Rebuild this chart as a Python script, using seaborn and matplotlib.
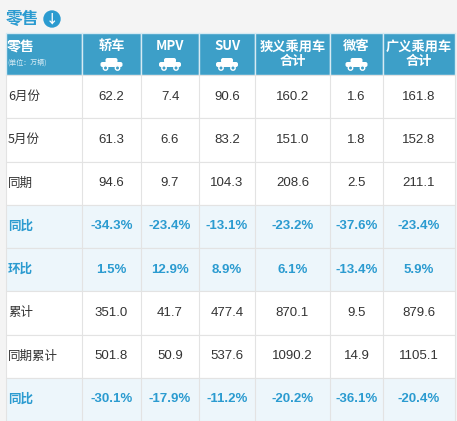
import matplotlib.pyplot as plt
import seaborn as sns
from matplotlib.patches import Rectangle, Circle, FancyBboxPatch

sns.set_theme(style='white')
plt.rcParams['font.family'] = ['Noto Sans CJK SC', 'DejaVu Sans']

columns = ['轿车', 'MPV', 'SUV', '狭义乘用车\n合计', '微客', '广义乘用车\n合计']
row_labels = ['6月份', '5月份', '同期', '同比', '环比', '累计', '同期累计', '同比']
values = [
    ['62.2', '7.4', '90.6', '160.2', '1.6', '161.8'],
    ['61.3', '6.6', '83.2', '151.0', '1.8', '152.8'],
    ['94.6', '9.7', '104.3', '208.6', '2.5', '211.1'],
    ['-34.3%', '-23.4%', '-13.1%', '-23.2%', '-37.6%', '-23.4%'],
    ['1.5%', '12.9%', '8.9%', '6.1%', '-13.4%', '5.9%'],
    ['351.0', '41.7', '477.4', '870.1', '9.5', '879.6'],
    ['501.8', '50.9', '537.6', '1090.2', '14.9', '1105.1'],
    ['-30.1%', '-17.9%', '-11.2%', '-20.2%', '-36.1%', '-20.4%'],
]
highlight = [False, False, False, True, True, False, False, True]

# layout in pixels
col_edges = [6, 82, 141, 199, 255, 330, 383, 455]
header_top, header_bot = 33, 75
row_h = (421 - header_bot) / len(row_labels)

HEAD = '#3d9fc8'
BLUE = '#2b9bd0'
LIGHT = '#edf6fb'
NUM_FONT = ['Liberation Sans', 'DejaVu Sans']

fig = plt.figure(figsize=(4.57, 4.21), dpi=100)
fig.patch.set_facecolor('#f4f4f4')
ax = fig.add_axes([0, 0, 1, 1])
ax.set_xlim(0, 457)
ax.set_ylim(421, 0)
ax.axis('off')

# title
ax.text(6, 19, '零售', color=BLUE, fontsize=12, fontweight='bold', va='center')
ax.add_patch(Circle((52, 19), 8, color=BLUE))
ax.text(52, 19.5, '↓', color='white', fontsize=9, fontweight='bold', ha='center', va='center')

# header
for i in range(len(col_edges) - 1):
    x0, x1 = col_edges[i], col_edges[i + 1]
    ax.add_patch(Rectangle((x0, header_top), x1 - x0, header_bot - header_top,
                           facecolor=HEAD, edgecolor='#d6eaf3', lw=1))
    if i == 0:
        ax.text(x0 + 1, 48, '零售', color='white', fontsize=10, fontweight='bold', va='center')
        ax.text(x0 + 1, 63, '(单位：万辆)', color='#d8ecf5', fontsize=5, va='center')
    else:
        lab = columns[i - 1]
        if '\n' in lab:
            ax.text((x0 + x1) / 2, 54, lab, color='white', fontsize=9.5,
                    fontweight='bold', ha='center', va='center', linespacing=1.05)
        else:
            ax.text((x0 + x1) / 2, 46, lab, color='white', fontsize=9.5,
                    fontweight='bold', ha='center', va='center')
            # simple car icon
            cx = (x0 + x1) / 2
            ax.add_patch(FancyBboxPatch((cx - 11, 62), 22, 5, boxstyle='round,pad=0,rounding_size=2',
                                        facecolor='white', edgecolor='none'))
            ax.add_patch(FancyBboxPatch((cx - 6, 58), 12, 5, boxstyle='round,pad=0,rounding_size=2',
                                        facecolor='white', edgecolor='none'))
            for dx in (-6, 6):
                ax.add_patch(Circle((cx + dx, 68), 2.2, facecolor=HEAD, edgecolor='white', lw=1))

# body
for r, lab in enumerate(row_labels):
    y0 = header_bot + r * row_h
    bg = LIGHT if highlight[r] else 'white'
    ax.add_patch(Rectangle((col_edges[0], y0), col_edges[-1] - col_edges[0], row_h,
                           facecolor=bg, edgecolor='#e3e3e3', lw=0.8))
    color = BLUE if highlight[r] else '#333333'
    weight = 'bold' if highlight[r] else 'normal'
    yc = y0 + row_h / 2
    ax.text(col_edges[0] + 2, yc, lab, color=color, fontsize=9, fontweight=weight, va='center')
    for c, v in enumerate(values[r]):
        xc = (col_edges[c + 1] + col_edges[c + 2]) / 2
        ax.text(xc, yc, v, color=color, fontsize=9.5, fontweight=weight,
                ha='center', va='center', family=NUM_FONT)

for x in col_edges[1:-1]:
    ax.plot([x, x], [header_bot, 421], color='#e3e3e3', lw=0.8)

fig.savefig('out.png', dpi=100, facecolor=fig.get_facecolor())
